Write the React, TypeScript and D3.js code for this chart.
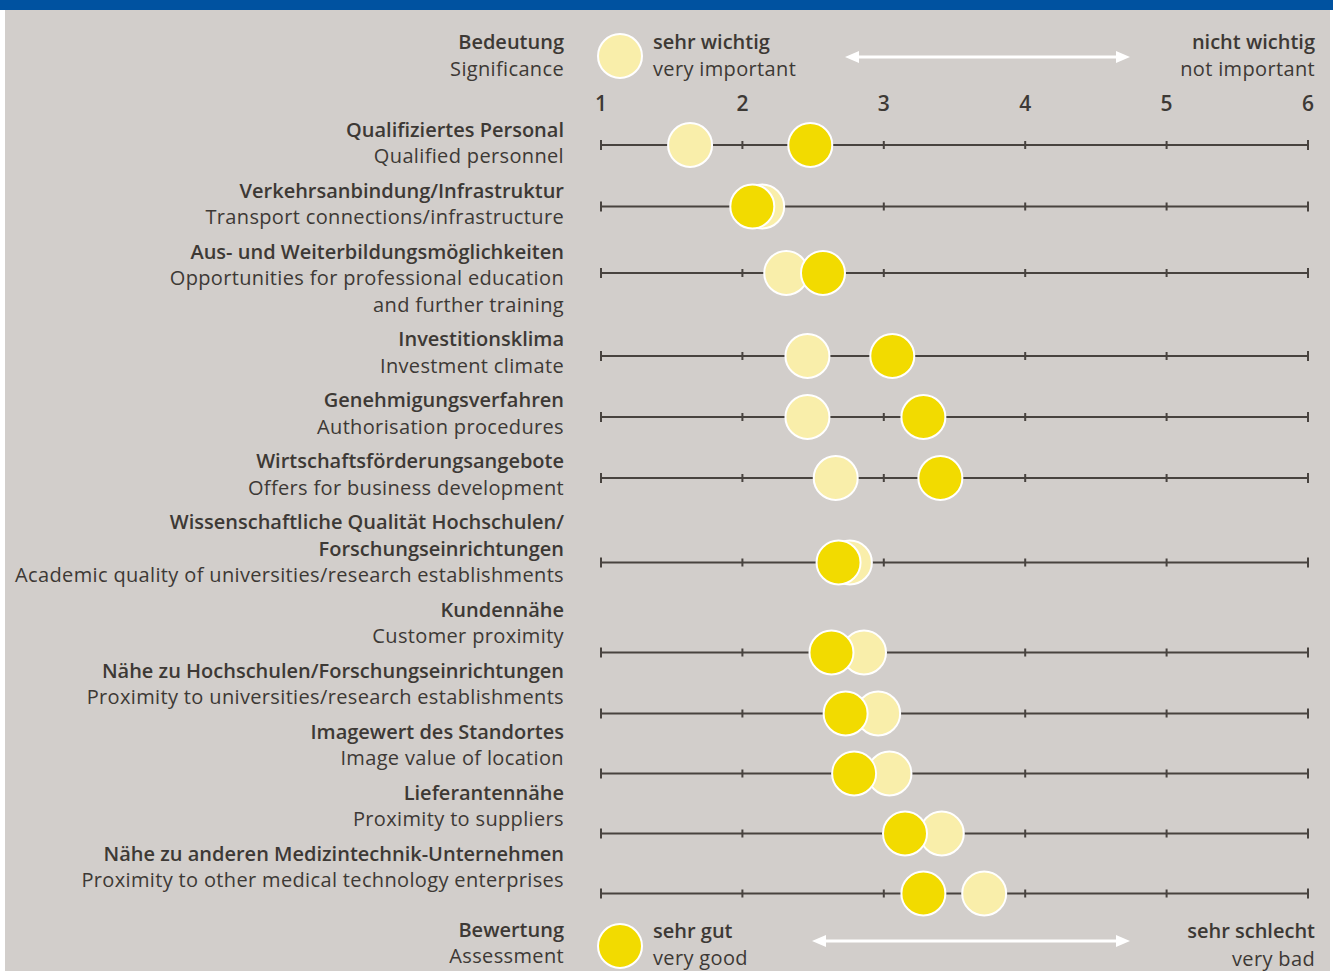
import * as d3 from 'd3'

// German (bold) and English (regular) label lines per factor, top to bottom
const FACTORS_DE: string[][] = [
  ['Qualifiziertes Personal'],
  ['Verkehrsanbindung/Infrastruktur'],
  ['Aus- und Weiterbildungsmöglichkeiten'],
  ['Investitionsklima'],
  ['Genehmigungsverfahren'],
  ['Wirtschaftsförderungsangebote'],
  ['Wissenschaftliche Qualität Hochschulen/', 'Forschungseinrichtungen'],
  ['Kundennähe'],
  ['Nähe zu Hochschulen/Forschungseinrichtungen'],
  ['Imagewert des Standortes'],
  ['Lieferantennähe'],
  ['Nähe zu anderen Medizintechnik-Unternehmen'],
]
const FACTORS_EN: string[][] = [
  ['Qualified personnel'],
  ['Transport connections/infrastructure'],
  ['Opportunities for professional education', 'and further training'],
  ['Investment climate'],
  ['Authorisation procedures'],
  ['Offers for business development'],
  ['Academic quality of universities/research establishments'],
  ['Customer proximity'],
  ['Proximity to universities/research establishments'],
  ['Image value of location'],
  ['Proximity to suppliers'],
  ['Proximity to other medical technology enterprises'],
]
// Bedeutung / Significance (light circles)
const SIGNIFICANCE = [1.63, 2.14, 2.31, 2.46, 2.46, 2.66, 2.76, 2.86, 2.96, 3.04, 3.41, 3.71]
// Bewertung / Assessment (dark circles)
const ASSESSMENT = [2.48, 2.07, 2.57, 3.06, 3.28, 3.4, 2.68, 2.63, 2.73, 2.79, 3.15, 3.28]
const TICKS = [1, 2, 3, 4, 5, 6]

const W = 1333
const H = 971
const FONT = '"Open Sans", Lato, sans-serif'
const TEXT = '#3d3935'
const AXIS = '#48433f'
const LIGHT = '#f9eeaa'
const DARK = '#f2db00'
const BG = '#d2cecb'
const BLUE = '#0052a0'
const R = 22

const LABEL_X = 564
const FIRST_LINE = 129
const LINE_H = 26.5
const BLOCK_GAP = 34.5
// where each axis sits relative to the last line of its label block
const AXIS_OFFSET = [-10.5, -10, -31, -9, -9, -9, -12, 17, 17, 16, 15, 14]

function Arrow({ x1, x2, y }: { x1: number; x2: number; y: number }) {
  const head = 14
  return (
    <g fill="#fff" stroke="#fff">
      <line x1={x1 + head - 2} x2={x2 - head + 2} y1={y} y2={y} strokeWidth={3} />
      <path d={`M${x1},${y} L${x1 + head},${y - 6} L${x1 + head},${y + 6} Z`} stroke="none" />
      <path d={`M${x2},${y} L${x2 - head},${y - 6} L${x2 - head},${y + 6} Z`} stroke="none" />
    </g>
  )
}

export default function App() {
  const x = d3.scaleLinear().domain([1, 6]).range([601, 1308])

  // flow the label blocks down the page
  let cursor = FIRST_LINE
  const rows = FACTORS_DE.map((de, i) => {
    const lines = [
      ...de.map((t) => ({ t, bold: true })),
      ...FACTORS_EN[i].map((t) => ({ t, bold: false })),
    ].map((l, j) => ({ ...l, y: cursor + j * LINE_H }))
    const last = lines[lines.length - 1].y
    cursor = last + BLOCK_GAP
    return { lines, axisY: last + AXIS_OFFSET[i] }
  })

  const bold = { fontFamily: FONT, fontWeight: 600, fontSize: 20, fill: TEXT }
  const reg = { fontFamily: FONT, fontWeight: 400, fontSize: 20, letterSpacing: 0.35, fill: TEXT }

  return (
    <svg width={W} height={H} style={{ display: 'block', position: 'absolute', left: 0, top: 0 }}>
      <rect width={W} height={H} fill="#fff" />
      <rect x={5} y={10} width={1325} height={H - 10} fill={BG} />
      <rect width={W} height={10} fill={BLUE} />

      {/* header legend */}
      <text x={LABEL_X} y={41} textAnchor="end" dominantBaseline="central" {...bold}>Bedeutung</text>
      <text x={LABEL_X} y={68} textAnchor="end" dominantBaseline="central" {...reg}>Significance</text>
      <circle cx={620} cy={56} r={R} fill={LIGHT} stroke="#fff" strokeWidth={2} />
      <text x={653} y={41} dominantBaseline="central" {...bold}>sehr wichtig</text>
      <text x={653} y={68} dominantBaseline="central" {...reg}>very important</text>
      <Arrow x1={845} x2={1130} y={57} />
      <text x={1315} y={41} textAnchor="end" dominantBaseline="central" {...bold}>nicht wichtig</text>
      <text x={1315} y={68} textAnchor="end" dominantBaseline="central" {...reg}>not important</text>

      {TICKS.map((t) => (
        <text key={t} x={x(t)} y={103} textAnchor="middle" dominantBaseline="central" {...bold} fontSize={21}>
          {t}
        </text>
      ))}

      {rows.map((row, i) => (
        <g key={i}>
          {row.lines.map((l, j) => (
            <text key={j} x={LABEL_X} y={l.y} textAnchor="end" dominantBaseline="central" {...(l.bold ? bold : reg)}>
              {l.t}
            </text>
          ))}
          <line x1={x(1)} x2={x(6)} y1={row.axisY} y2={row.axisY} stroke={AXIS} strokeWidth={2} />
          {TICKS.map((t) => {
            const h = t === 1 || t === 6 ? 5 : 4
            return (
              <line key={t} x1={x(t)} x2={x(t)} y1={row.axisY - h} y2={row.axisY + h} stroke={AXIS} strokeWidth={2} />
            )
          })}
          <circle cx={x(SIGNIFICANCE[i])} cy={row.axisY} r={R} fill={LIGHT} stroke="#fff" strokeWidth={2} />
          <circle cx={x(ASSESSMENT[i])} cy={row.axisY} r={R} fill={DARK} stroke="#fff" strokeWidth={2} />
        </g>
      ))}

      {/* footer legend */}
      <text x={LABEL_X} y={929} textAnchor="end" dominantBaseline="central" {...bold}>Bewertung</text>
      <text x={LABEL_X} y={955} textAnchor="end" dominantBaseline="central" {...reg}>Assessment</text>
      <circle cx={620} cy={946} r={R} fill={DARK} stroke="#fff" strokeWidth={2} />
      <text x={653} y={930} dominantBaseline="central" {...bold}>sehr gut</text>
      <text x={653} y={957} dominantBaseline="central" {...reg}>very good</text>
      <Arrow x1={812} x2={1130} y={941} />
      <text x={1315} y={930} textAnchor="end" dominantBaseline="central" {...bold}>sehr schlecht</text>
      <text x={1315} y={958} textAnchor="end" dominantBaseline="central" {...reg}>very bad</text>
    </svg>
  )
}
